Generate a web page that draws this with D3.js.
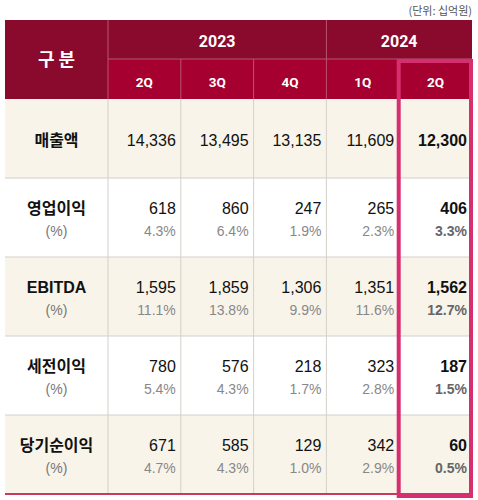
<!DOCTYPE html>
<html>
<head>
<meta charset="utf-8">
<script src="https://cdn.jsdelivr.net/npm/d3@7"></script>
<style>
  body { margin: 0; background: #fff; }
  svg { display: block; }
  .kr { font-family: "Noto Sans CJK KR", "Noto Sans", sans-serif; }
  .num { font-family: "Liberation Sans", Arial, sans-serif; }
  .hd { font-family: Roboto, "Liberation Sans", sans-serif; }
</style>
</head>
<body>
<script>
// 단위: 십억원
const years = ["2023", "2024"];
const yearSpans = [3, 2];
const quarters = ["2Q", "3Q", "4Q", "1Q", "2Q"];
const rowLabels = ["매출액", "영업이익", "EBITDA", "세전이익", "당기순이익"];
const sales = [14336, 13495, 13135, 11609, 12300];
const opProfit = [618, 860, 247, 265, 406];
const ebitda = [1595, 1859, 1306, 1351, 1562];
const preTax = [780, 576, 218, 323, 187];
const netProfit = [671, 585, 129, 342, 60];
const opMargin = [4.3, 6.4, 1.9, 2.3, 3.3];
const ebitdaMargin = [11.1, 13.8, 9.9, 11.6, 12.7];
const preTaxMargin = [5.4, 4.3, 1.7, 2.8, 1.5];
const netMargin = [4.7, 4.3, 1.0, 2.9, 0.5];

const rows = [
  { label: rowLabels[0], values: sales, pct: null },
  { label: rowLabels[1], values: opProfit, pct: opMargin },
  { label: rowLabels[2], values: ebitda, pct: ebitdaMargin },
  { label: rowLabels[3], values: preTax, pct: preTaxMargin },
  { label: rowLabels[4], values: netProfit, pct: netMargin }
];

const W = 478, H = 500;
const tLeft = 5, tRight = 472, labelW = 103;
const tTop = 20, headMid = 59, headBottom = 99, tBottom = 494;

const svg = d3.select("body").append("svg")
  .attr("width", W).attr("height", H);

const x = d3.scaleBand()
  .domain(d3.range(quarters.length))
  .range([tLeft + labelW, tRight]);

const y = d3.scaleBand()
  .domain(d3.range(rows.length))
  .range([headBottom, tBottom]);

const fmt = d3.format(",");
const fmtPct = d3.format(".1f");

// unit note
svg.append("text").attr("class", "kr")
  .attr("x", tRight).attr("y", 15)
  .attr("text-anchor", "end")
  .attr("font-size", 11).attr("fill", "#555")
  .text("(단위: 십억원)");

// header backgrounds
svg.append("rect")
  .attr("x", tLeft).attr("y", tTop)
  .attr("width", tRight - tLeft).attr("height", headBottom - tTop)
  .attr("fill", "#8a0a2e");

svg.selectAll(".qcell").data(quarters).enter().append("rect")
  .attr("x", (d, i) => x(i)).attr("y", headMid)
  .attr("width", x.bandwidth()).attr("height", headBottom - headMid)
  .attr("fill", "#a5002f");

// header lines
const hl = "#b95470";
svg.append("line").attr("x1", x(0)).attr("x2", tRight)
  .attr("y1", headMid).attr("y2", headMid)
  .attr("stroke", hl).attr("stroke-width", 1);
svg.selectAll(".qline").data(d3.range(quarters.length)).enter().append("line")
  .attr("x1", i => x(i)).attr("x2", i => x(i))
  .attr("y1", i => (i === 0 || i === 3) ? tTop : headMid).attr("y2", headBottom)
  .attr("stroke", hl).attr("stroke-width", 1);

// year labels
let start = 0;
years.forEach((yr, k) => {
  const x0 = x(start), x1 = x(start + yearSpans[k] - 1) + x.bandwidth();
  svg.append("text").attr("class", "hd")
    .attr("x", (x0 + x1) / 2).attr("y", 47)
    .attr("text-anchor", "middle")
    .attr("font-size", 16).attr("font-weight", "bold").attr("fill", "#fff")
    .text(yr);
  start += yearSpans[k];
});

svg.selectAll(".qlabel").data(quarters).enter().append("text")
  .attr("class", "hd")
  .attr("x", (d, i) => x(i) + x.bandwidth() / 2).attr("y", 86.5)
  .attr("text-anchor", "middle")
  .attr("font-size", 13.5).attr("font-weight", "bold").attr("fill", "#fff")
  .text(d => d);

svg.append("text").attr("class", "kr")
  .attr("x", tLeft + labelW / 2).attr("y", 66)
  .attr("text-anchor", "middle")
  .attr("font-size", 18).attr("font-weight", "bold").attr("fill", "#fff")
  .text("구 분");

// body rows
const g = svg.selectAll(".row").data(rows).enter().append("g")
  .attr("transform", (d, i) => `translate(0,${y(i)})`);

g.append("rect")
  .attr("x", tLeft).attr("width", tRight - tLeft)
  .attr("height", y.bandwidth())
  .attr("fill", (d, i) => i % 2 === 0 ? "#f8f4ea" : "#fff");

const h = y.bandwidth();

g.append("text").attr("class", d => /[가-힣]/.test(d.label) ? "kr" : "num")
  .attr("x", tLeft + labelW / 2)
  .attr("y", d => d.pct ? h / 2 - 4 : h / 2 + 7.5)
  .attr("text-anchor", "middle")
  .attr("font-size", 16).attr("font-weight", "bold").attr("fill", "#111")
  .text(d => d.label);

g.filter(d => d.pct).append("text").attr("class", "num")
  .attr("x", tLeft + labelW / 2).attr("y", h / 2 + 18)
  .attr("text-anchor", "middle")
  .attr("font-size", 14).attr("fill", "#777")
  .text("(%)");

g.each(function (d) {
  const row = d3.select(this);
  const last = d.values.length - 1;
  row.selectAll(".v").data(d.values).enter().append("text")
    .attr("class", "num")
    .attr("x", (v, i) => x(i) + x.bandwidth() - 5)
    .attr("y", d.pct ? h / 2 - 4 : h / 2 + 7.5)
    .attr("text-anchor", "end")
    .attr("font-size", 16)
    .attr("font-weight", (v, i) => i === last ? "bold" : "normal")
    .attr("fill", "#111")
    .text(v => fmt(v));
  if (d.pct) {
    row.selectAll(".p").data(d.pct).enter().append("text")
      .attr("class", "num")
      .attr("x", (v, i) => x(i) + x.bandwidth() - 5)
      .attr("y", h / 2 + 18)
      .attr("text-anchor", "end")
      .attr("font-size", 14)
      .attr("font-weight", (v, i) => i === last ? "bold" : "normal")
      .attr("fill", (v, i) => i === last ? "#666" : "#888")
      .text(v => fmtPct(v) + "%");
  }
});

// grid lines in body
const gl = "#d4d0cb";
svg.selectAll(".hline").data(d3.range(1, rows.length)).enter().append("line")
  .attr("x1", tLeft).attr("x2", tRight)
  .attr("y1", i => y(i)).attr("y2", i => y(i))
  .attr("stroke", gl).attr("stroke-width", 1);
svg.selectAll(".vline").data(d3.range(quarters.length)).enter().append("line")
  .attr("x1", i => x(i)).attr("x2", i => x(i))
  .attr("y1", headBottom).attr("y2", tBottom)
  .attr("stroke", gl).attr("stroke-width", 1);

// bottom border
svg.append("line")
  .attr("x1", tLeft).attr("x2", tRight)
  .attr("y1", tBottom).attr("y2", tBottom)
  .attr("stroke", "#c8385f").attr("stroke-width", 2);

// highlight of latest quarter
const li = quarters.length - 1;
svg.append("rect")
  .attr("x", x(li) - 0.5).attr("y", headMid + 2)
  .attr("width", x.bandwidth() - 0.5).attr("height", tBottom - headMid)
  .attr("fill", "none")
  .attr("stroke", "#d62f6f").attr("stroke-width", 4);
</script>
</body>
</html>
